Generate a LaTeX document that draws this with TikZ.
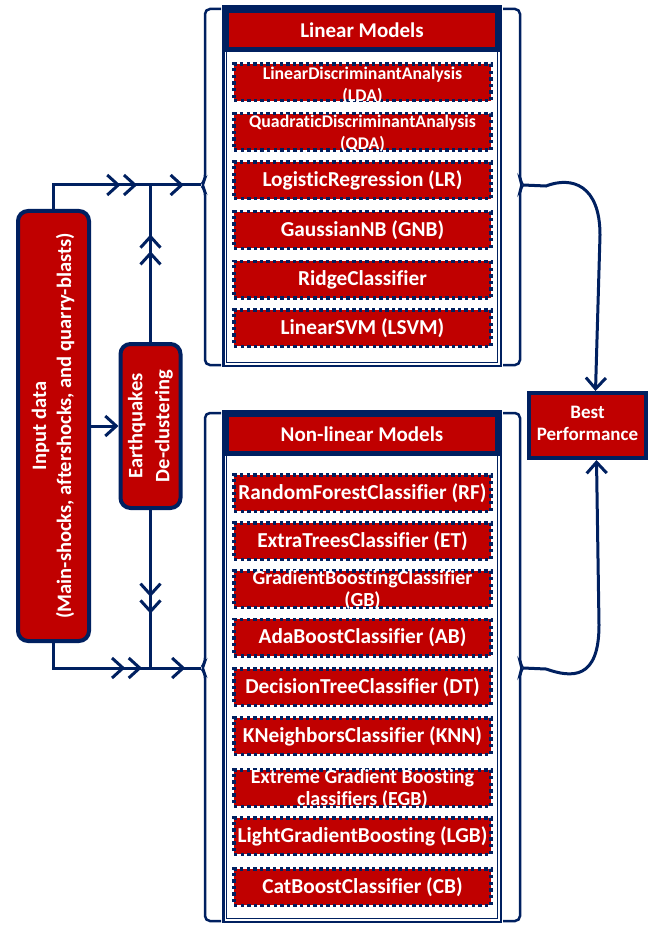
\documentclass[tikz,border=0pt]{standalone}
\usepackage{fontspec}
\setmainfont{Carlito}[Ligatures=NoCommon]
\usetikzlibrary{arrows.meta,decorations.markings}
\definecolor{dred}{RGB}{192,0,0}
\definecolor{navy}{RGB}{0,32,96}
\tikzset{
  item/.style={draw=navy, fill=dred, line width=3.5pt, dash pattern=on 3.3pt off 3.3pt,
    minimum width=257pt, minimum height=36.5pt, inner sep=0pt, text=white,
    font=\bfseries\fontsize{21.3}{22}\selectfont, align=center},
  itemsmall/.style={item, font=\bfseries\fontsize{17.8}{22}\selectfont},
  itemtwo/.style={item, font=\bfseries\fontsize{20}{22}\selectfont},
  hdr/.style={fill=dred, minimum width=266pt, minimum height=34pt, inner sep=0pt,
    text=white, font=\bfseries\fontsize{21}{24}\selectfont},
  rbox/.style={draw=navy, fill=dred, line width=4pt, rounded corners=10pt, inner sep=0pt,
    text=white, font=\bfseries\fontsize{20.5}{25}\selectfont, align=center},
  conn/.style={draw=navy, line width=3pt},
  brk/.style={draw=navy, line width=2.5pt, rounded corners=5pt},
  frameo/.style={draw=navy, line width=2.5pt},
  framei/.style={draw=navy, line width=1pt},
  mdbl/.style={postaction={decorate}, decoration={markings,
    mark=at position #1 with {\arrow{Straight Barb[length=11pt,width=20pt,sep=2pt] Straight Barb[length=11pt,width=20pt]}}}},
  msgl/.style={postaction={decorate}, decoration={markings,
    mark=at position #1 with {\arrow{Straight Barb[length=11pt,width=20pt]}}}},
  endbarb/.style={-{Straight Barb[length=11pt,width=20pt]}}
}
\newcommand{\twoline}[3]{\smash{\raisebox{#1}{\begin{tabular}{@{}c@{}}#2\\#3\end{tabular}}}}
\begin{document}
\begin{tikzpicture}[x=1pt,y=1pt]
\useasboundingbox (0,0) rectangle (657,-925);

% ---------- Linear models panel ----------
\fill[navy] (222,-5) rectangle (502,-52);
\draw[frameo] (223.25,-6.25) rectangle (500.75,-365.75);
\draw[framei] (226.5,-9) rectangle (497.5,-362);
\node[hdr] (lhdr) at (362,-30) {Linear Models};
\node[itemsmall] (lda) at (362.5,-82.5) {\twoline{-8pt}{LinearDiscriminantAnalysis}{(LDA)}};
\node[itemsmall] (qda) at (362.5,-132) {\twoline{-6.5pt}{QuadraticDiscriminantAnalysis}{(QDA)}};
\node[item] (lr) at (362.5,-180.5) {LogisticRegression (LR)};
\node[item] (gnb) at (362.5,-230) {GaussianNB (GNB)};
\node[item] (ridge) at (362.5,-279.5) {RidgeClassifier};
\node[item] (lsvm) at (362.5,-328) {LinearSVM (LSVM)};

% ---------- Non-linear models panel ----------
\fill[navy] (222,-410) rectangle (502,-456);
\draw[frameo] (223.25,-411.25) rectangle (500.75,-921.75);
\draw[framei] (226.5,-414) rectangle (497.5,-918);
\node[hdr] (nhdr) at (362,-434) {Non-linear Models};
\node[item] (rf) at (362.5,-493) {RandomForestClassifier (RF)};
\node[item] (et) at (362.5,-541) {ExtraTreesClassifier (ET)};
\node[itemtwo] (gb) at (362.5,-589) {\twoline{-7.5pt}{GradientBoostingClassifier}{(GB)}};
\node[item] (ab) at (362.5,-637.5) {AdaBoostClassifier (AB)};
\node[item] (dt) at (362.5,-687) {DecisionTreeClassifier (DT)};
\node[item] (knn) at (362.5,-736) {KNeighborsClassifier (KNN)};
\node[itemtwo] (egb) at (362.5,-788) {\twoline{-7.5pt}{Extreme Gradient Boosting}{classifiers (EGB)}};
\node[item] (lgb) at (362.5,-836) {LightGradientBoosting (LGB)};
\node[item] (cb) at (362.5,-887) {CatBoostClassifier (CB)};

% ---------- brackets ----------
\coordinate (lL) at (201,-185);
\coordinate (lR) at (523,-185);
\coordinate (nL) at (201,-668);
\coordinate (nR) at (523,-668);
\draw[brk] (221,-9) -- (205,-9) -- (205,-180) -- (lL) -- (205,-190) -- (205,-365) -- (221,-365);
\draw[brk] (503,-9) -- (520,-9) -- (520,-180) -- (lR) -- (520,-190) -- (520,-365) -- (503,-365);
\draw[brk] (221,-413) -- (205,-413) -- (205,-663) -- (nL) -- (205,-673) -- (205,-921) -- (221,-921);
\draw[brk] (503,-413) -- (520,-413) -- (520,-663) -- (nR) -- (520,-673) -- (520,-921) -- (503,-921);

% ---------- left nodes ----------
\node[rbox, minimum width=71pt, minimum height=430pt] (inp) at (53.5,-426)
  {\rotatebox{90}{\begin{tabular}{@{}c@{}}Input data\\(Main-shocks, aftershocks, and quarry-blasts)\end{tabular}}};
\node[rbox, minimum width=60pt, minimum height=164pt, font=\bfseries\fontsize{20.5}{27}\selectfont] (dc) at (150.5,-426)
  {\rotatebox{90}{\begin{tabular}{@{}c@{}}Earthquakes\\De-clustering\end{tabular}}};
\node[rbox, rounded corners=0pt, minimum width=117pt, minimum height=65pt,
  font=\bfseries\fontsize{19}{22}\selectfont] (best) at (587.5,-425.5) {\begin{tabular}{@{}c@{}}Best\\Performance\end{tabular}};

\coordinate (j1) at (150.5,-185);
\coordinate (j2) at (150.5,-668);

% ---------- connectors ----------
\draw[conn, mdbl=0.89] (inp.north) |- (j1);
\draw[conn, msgl=0.66] (j1) -- (lL);
\draw[conn, mdbl=0.685] (dc.north) -- (j1);
\draw[conn, mdbl=0.93] (inp.south) |- (j2);
\draw[conn, msgl=0.69] (j2) -- (nL);
\draw[conn, mdbl=0.656] (dc.south) -- (j2);
\draw[conn, endbarb] (inp.east) -- (dc.west);
\draw[conn, endbarb] (lR) -- (546,-186) .. controls (572,-176) and (600,-185) .. (600,-235) -- ([xshift=8pt]best.north);
\draw[conn, endbarb] (nR) -- (546,-669) .. controls (572,-678) and (599,-680) .. (599,-625) -- ([xshift=9pt]best.south);
\end{tikzpicture}
\end{document}
